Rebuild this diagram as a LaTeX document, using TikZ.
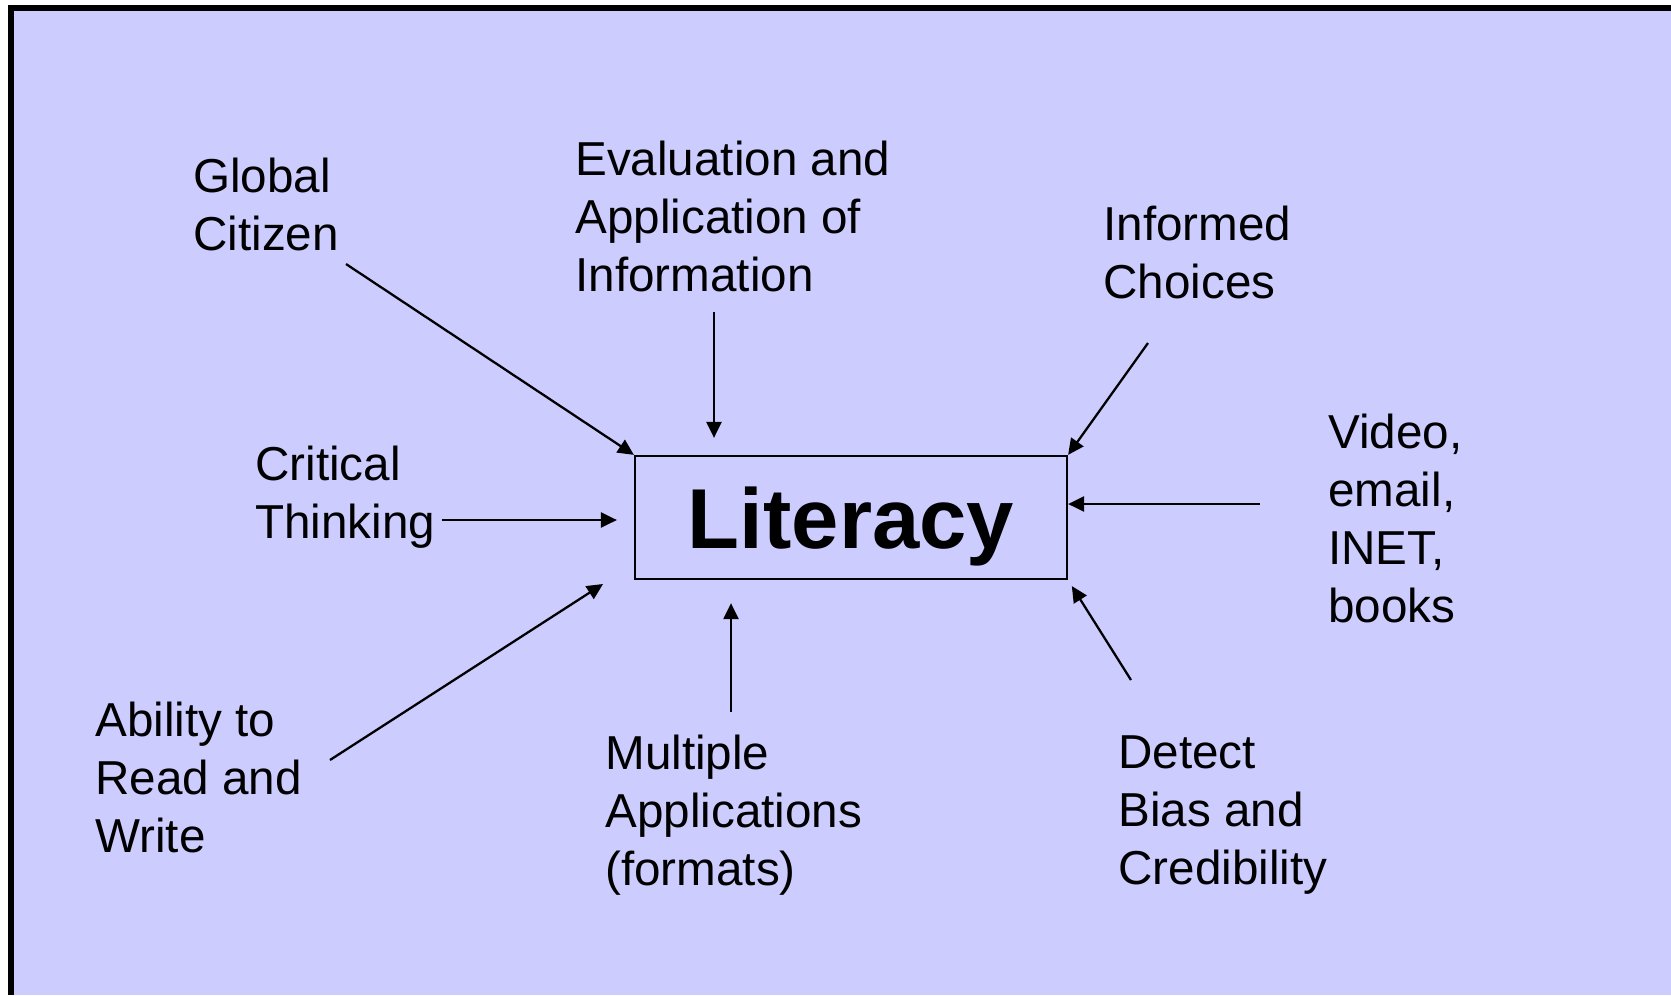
\documentclass[tikz,border=0pt]{standalone}
\usepackage{xcolor}
\usepackage{fontspec}
\setmainfont{Liberation Sans}
\usepackage{tikz}
\usetikzlibrary{arrows.meta,calc}
\definecolor{PanelLilac}{HTML}{CCCCFF}
\tikzset{
  % Labels round the centre box (placed at their last baseline)
  lbl/.style={anchor=base west,inner sep=0pt,align=left,
              font=\fontsize{27.1}{33}\selectfont},
  % Centre box
  hub/.style={rectangle,draw,line width=1.3pt,inner sep=0pt,
              minimum width=8.64cm,minimum height=2.46cm,
              text depth=0pt,font=\fontsize{48.4}{50}\selectfont\bfseries},
  % Arrow
  arr/.style={-{Triangle[length=0.32cm,width=0.3cm]},line width=1.3pt}
}
\begin{document}
\begin{tikzpicture}[x=0.02cm,y=-0.02cm]
  \useasboundingbox (0,0) rectangle (1671,995);
  \fill[white] (0,0) rectangle (1671,995);
  \fill[black] (8,5) rectangle (1671,995);
  \fill[PanelLilac] (14,11) rectangle (1671,995);

  \node[hub] (literacy) at (851,517.5) {Literacy};

  \node[lbl] (glob) at (193,250) {Global\\Citizen};
  \node[lbl] (evalinfo) at (575,291) {Evaluation and\\Application of\\Information};
  \node[lbl] (choices) at (1103,298) {Informed\\Choices};
  \node[lbl] (media) at (1328,622) {Video,\\email,\\INET,\\books};
  \node[lbl] (critical) at (255,538) {Critical\\Thinking};
  \node[lbl] (ability) at (95,852) {Ability to\\Read and\\Write};
  \node[lbl] (formats) at (605,885) {Multiple\\Applications\\(formats)};
  \node[lbl] (bias) at (1118,884) {Detect\\Bias and\\Credibility};

  % arrow tails
  \coordinate (glob-t) at (346,264);
  \coordinate (eval-t) at (714,312);
  \coordinate (choice-t) at (1148,343);
  \coordinate (media-t) at (1260,504);
  \coordinate (crit-t) at (442,520);
  \coordinate (abil-t) at (330,760);
  \coordinate (abil-h) at (603,584);
  \coordinate (form-t) at (731,712);
  \coordinate (bias-t) at (1131,680);

  \draw[arr] (glob-t) -- (literacy.north west);
  \draw[arr,shorten >=0.34cm] (eval-t) -- (eval-t |- literacy.north);
  \draw[arr] (choice-t) -- (literacy.north east);
  \draw[arr] (media-t) -- (media-t -| literacy.east);
  \draw[arr,shorten >=0.34cm] (crit-t) -- (crit-t -| literacy.west);
  \draw[arr] (abil-t) -- (abil-h);
  \draw[arr,shorten >=0.46cm] (form-t) -- (form-t |- literacy.south);
  \draw[arr,shorten >=0.14cm] (bias-t) -- (literacy.south east);
\end{tikzpicture}
\end{document}
